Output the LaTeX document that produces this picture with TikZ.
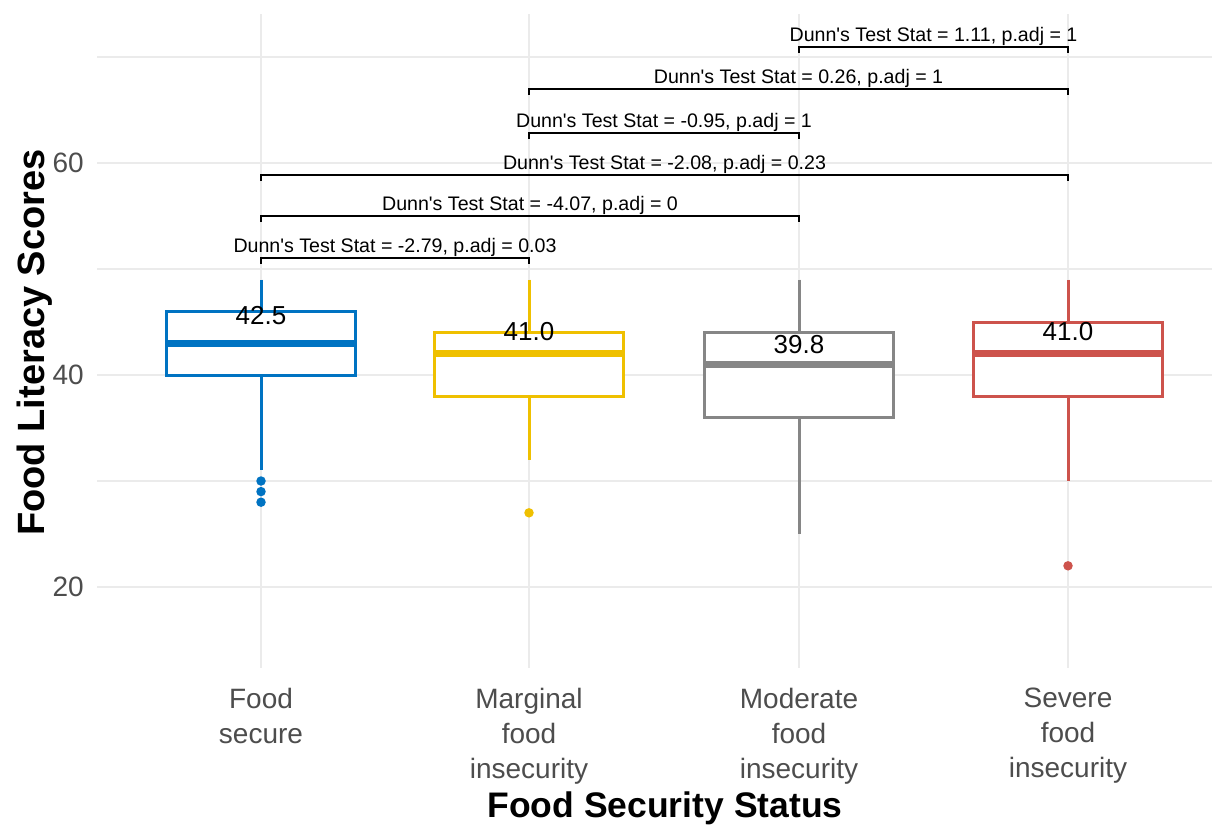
\documentclass[tikz,border=0pt]{standalone}
\usepackage{fontspec}
\setmainfont{Liberation Sans}
\definecolor{jcoblue}{HTML}{0073C2}
\definecolor{jcoyellow}{HTML}{EFC000}
\definecolor{jcogray}{HTML}{868686}
\definecolor{jcored}{HTML}{CD534C}
\definecolor{gridgray}{HTML}{EBEBEB}
\definecolor{axistext}{HTML}{4D4D4D}
\newcommand{\dunn}{Dunn\textquotesingle s Test Stat}
\begin{document}
\begin{tikzpicture}[x=1pt,y=-1pt,
  declare function={py(\v)=375-(\v-40)*10.6;},
  gridmajor/.style={draw=gridgray,line width=2.2pt},
  gridminor/.style={draw=gridgray,line width=1.6pt},
  whisk/.style={line width=3pt},
  boxframe/.style={line width=3pt,fill=white},
  medianline/.style={line width=7pt},
  outlier/.style={circle,inner sep=0pt,minimum size=9.5pt},
  meanlabel/.style={inner sep=0pt,font=\fontsize{26}{30}\selectfont},
  ticklabel/.style={inner sep=0pt,anchor=east,text=axistext,font=\fontsize{28}{34}\selectfont},
  catlabel/.style={inner sep=0pt,anchor=north,align=center,text=axistext,font=\fontsize{28}{35}\selectfont},
  dunnlabel/.style={inner sep=0pt,anchor=base,font=\fontsize{19.6}{23}\selectfont},
  bracket/.style={draw=black,line width=1.5pt},
  axistitle/.style={inner sep=0pt,anchor=base,font=\bfseries}
]
% canvas
\fill[white] (0,0) rectangle (1212,827);
\useasboundingbox (0,0) rectangle (1212,827);

% panel grid
\foreach \v in {30,50,70}
  \draw[gridminor] (97,{py(\v)}) -- (1212,{py(\v)});
\foreach \v in {20,40,60}
  \draw[gridmajor] (97,{py(\v)}) -- (1212,{py(\v)});
\foreach \x in {261,529,799,1068}
  \draw[gridmajor] (\x,14) -- (\x,668);

% y tick labels
\foreach \v in {20,40,60}
  \node[ticklabel] (tick-\v) at (84,{py(\v)}) {\v};

% pairwise comparison brackets
\foreach \xa/\xb/\yb/\txt/\n in {
  261/529/258/{\dunn{} = -2.79, p.adj = 0.03}/b12,
  261/799/216/{\dunn{} = -4.07, p.adj = 0}/b13,
  261/1068/175/{\dunn{} = -2.08, p.adj = 0.23}/b14,
  529/799/133/{\dunn{} = -0.95, p.adj = 1}/b23,
  529/1068/89/{\dunn{} = 0.26, p.adj = 1}/b24,
  799/1068/47/{\dunn{} = 1.11, p.adj = 1}/b34}{
  \coordinate (\n-l) at (\xa,\yb);
  \coordinate (\n-r) at (\xb,\yb);
  \draw[bracket] ([yshift=-6pt]\n-l) -- (\n-l) -- (\n-r) -- ([yshift=-6pt]\n-r);
  \node[dunnlabel] (\n-text) at ({(\xa+\xb)/2},\yb-5.5) {\txt};
}

% box plots
\foreach \x/\c/\lo/\qa/\me/\qc/\hi/\mean/\n in {
  261/jcoblue/31/40/43/46/49/42.5/fs,
  529/jcoyellow/32/38/42/44/49/41.0/mfi,
  799/jcogray/25/36/41/44/49/39.8/mod,
  1068/jcored/30/38/42/45/49/41.0/sev}{
  \draw[whisk,draw=\c] (\x,{py(\hi)}) -- (\x,{py(\qc)});
  \draw[whisk,draw=\c] (\x,{py(\qa)}) -- (\x,{py(\lo)});
  \draw[boxframe,draw=\c] (\x-94.5,{py(\qc)}) rectangle (\x+94.5,{py(\qa)});
  \draw[medianline,draw=\c] (\x-93,{py(\me)}) -- (\x+93,{py(\me)});
  \node[meanlabel] (mean-\n) at (\x,{py(\mean)-33}) {\mean};
}

% outliers
\foreach \x/\c/\v/\n in {261/jcoblue/30/a, 261/jcoblue/29/b, 261/jcoblue/28/c,
                         529/jcoyellow/27/d, 1068/jcored/22/e}
  \node[outlier,fill=\c] (out-\n) at (\x,{py(\v)}) {};

% category labels
\node[catlabel] (cat-fs)  at (261,688)  {Food\\secure};
\node[catlabel] (cat-mfi) at (529,688)  {Marginal\\food\\insecurity};
\node[catlabel] (cat-mod) at (799,688)  {Moderate\\food\\insecurity};
\node[catlabel] (cat-sev) at (1068,688) {Severe\\food\\insecurity};

% axis titles
\node[axistitle,font=\bfseries\fontsize{35.5}{40}\selectfont] (xtitle) at (665,817) {Food Security Status};
\node[axistitle,rotate=90,font=\bfseries\fontsize{38}{44}\selectfont] (ytitle) at (44,342.5) {Food Literacy Scores};
\end{tikzpicture}
\end{document}
